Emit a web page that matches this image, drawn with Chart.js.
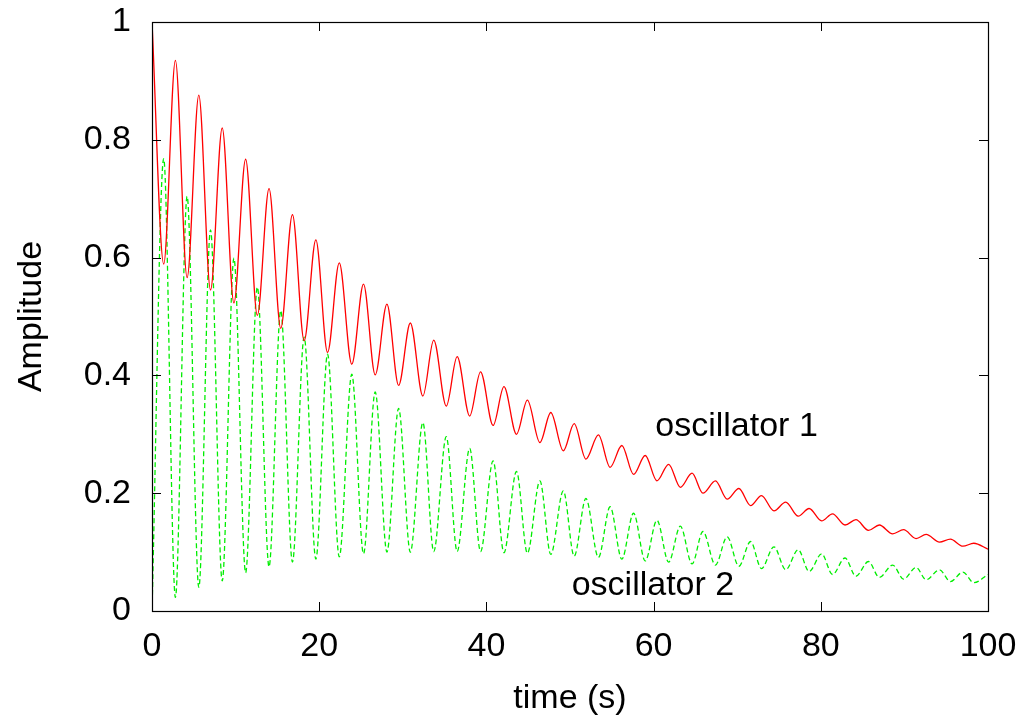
<!DOCTYPE html>
<html>
<head>
<meta charset="utf-8">
<script src="https://cdn.jsdelivr.net/npm/chart.js@4.4.1/dist/chart.umd.min.js"></script>
<style>
  html, body { margin: 0; padding: 0; background: #fff; }
  canvas { display: block; }
</style>
</head>
<body>
<canvas id="c" width="1023" height="719"></canvas>
<script>
// Times (s) of the extrema (red peak / red trough alternating)
const times = [
  0, 1.4, 2.8, 4.2, 5.6, 7.0, 8.4, 9.8, 11.2, 12.6, 14.0, 15.4, 16.8, 18.2, 19.6, 21.0,
  22.4, 23.9, 25.3, 26.7, 28.1, 29.5, 30.9, 32.4, 33.7, 35.2, 36.5, 38.0, 39.3, 40.8,
  42.1, 43.6, 44.9, 46.4, 47.7, 49.2, 50.5, 51.9, 53.4, 54.8, 56.2, 57.6, 59.0, 60.4,
  61.8, 63.2, 64.6, 65.9, 67.4, 68.8, 70.2, 71.6, 72.9, 74.4, 75.8, 77.3, 78.6, 80.1,
  81.4, 82.9, 84.2, 85.7, 87.0, 88.6, 89.9, 91.4, 92.6, 94.2, 95.5, 97.0, 98.3, 100
];
// oscillator 1 (red) amplitude at those times
const oscillator1 = [
  1.000, 0.589, 0.935, 0.566, 0.876, 0.545, 0.820, 0.523, 0.767, 0.502, 0.717, 0.480,
  0.673, 0.459, 0.630, 0.439, 0.591, 0.419, 0.555, 0.401, 0.521, 0.383, 0.489, 0.365,
  0.460, 0.348, 0.432, 0.331, 0.406, 0.315, 0.381, 0.300, 0.358, 0.286, 0.337, 0.272,
  0.318, 0.258, 0.299, 0.244, 0.281, 0.232, 0.264, 0.221, 0.249, 0.210, 0.234, 0.200,
  0.221, 0.190, 0.208, 0.179, 0.196, 0.170, 0.185, 0.161, 0.174, 0.153, 0.165, 0.146,
  0.155, 0.137, 0.146, 0.131, 0.138, 0.123, 0.130, 0.117, 0.122, 0.110, 0.115, 0.105
];
// oscillator 2 (green) amplitude at those times
const oscillator2 = [
  0.000, 0.768, 0.023, 0.704, 0.040, 0.647, 0.051, 0.599, 0.065, 0.550, 0.075, 0.510,
  0.083, 0.465, 0.088, 0.436, 0.092, 0.402, 0.097, 0.372, 0.100, 0.344, 0.100, 0.320,
  0.101, 0.296, 0.101, 0.276, 0.101, 0.255, 0.099, 0.237, 0.098, 0.221, 0.096, 0.204,
  0.093, 0.191, 0.091, 0.177, 0.088, 0.166, 0.085, 0.154, 0.083, 0.144, 0.080, 0.135,
  0.078, 0.126, 0.076, 0.118, 0.072, 0.109, 0.070, 0.104, 0.067, 0.097, 0.062, 0.090,
  0.059, 0.084, 0.057, 0.078, 0.054, 0.074, 0.053, 0.070, 0.050, 0.066, 0.048, 0.062
];
const xTickLabels = ['0', '20', '40', '60', '80', '100'];
const yTickLabels = ['0', '0.2', '0.4', '0.6', '0.8', '1'];
const xAxisTitle = 'time (s)';
const yAxisTitle = 'Amplitude';
const labelTexts = ['oscillator 1', 'oscillator 2'];
const labelTimes = [60.2, 50.2];
const labelValues = [0.297, 0.028];

const FONT = '"Liberation Sans", Arial, Helvetica, sans-serif';

const framePlugin = {
  id: 'gnuplotFrame',
  afterDatasetsDraw(chart) {
    const ctx = chart.ctx;
    const a = chart.chartArea;
    const xs = chart.scales.x, ys = chart.scales.y;
    const tl = 9;
    ctx.save();
    ctx.strokeStyle = '#000';
    ctx.lineWidth = 1;
    ctx.beginPath();
    xs.ticks.forEach(t => {
      const px = Math.round(xs.getPixelForValue(t.value)) + 0.5;
      ctx.moveTo(px, a.bottom); ctx.lineTo(px, a.bottom - tl);
      ctx.moveTo(px, a.top); ctx.lineTo(px, a.top + tl);
    });
    ys.ticks.forEach(t => {
      const py = Math.round(ys.getPixelForValue(t.value)) + 0.5;
      ctx.moveTo(a.left, py); ctx.lineTo(a.left + tl, py);
      ctx.moveTo(a.right, py); ctx.lineTo(a.right - tl, py);
    });
    ctx.stroke();
    ctx.lineWidth = 1.2;
    ctx.strokeRect(Math.round(a.left) + 0.5, Math.round(a.top) + 0.5,
                   Math.round(a.right - a.left), Math.round(a.bottom - a.top));
    // text labels
    ctx.fillStyle = '#000';
    ctx.font = '34px ' + FONT;
    ctx.textAlign = 'left';
    ctx.textBaseline = 'alphabetic';
    labelTexts.forEach((txt, i) => {
      ctx.fillText(txt, xs.getPixelForValue(labelTimes[i]), ys.getPixelForValue(labelValues[i]));
    });
    ctx.restore();
  }
};

const toPoints = (vals) => times.map((t, i) => ({ x: t, y: vals[i] }));

new Chart(document.getElementById('c'), {
  type: 'line',
  data: {
    datasets: [
      {
        label: 'oscillator 1',
        data: toPoints(oscillator1),
        borderColor: '#ff0000',
        borderWidth: 1.3,
        pointRadius: 0,
        fill: false,
        cubicInterpolationMode: 'monotone'
      },
      {
        label: 'oscillator 2',
        data: toPoints(oscillator2),
        borderColor: '#00ee00',
        borderWidth: 1.3,
        borderDash: [5, 3],
        pointRadius: 0,
        fill: false,
        cubicInterpolationMode: 'monotone'
      }
    ]
  },
  options: {
    responsive: false,
    animation: false,
    devicePixelRatio: 1,
    layout: { autoPadding: false, padding: { top: 22, right: 35, left: 0, bottom: 0 } },
    plugins: { legend: { display: false }, tooltip: { enabled: false } },
    scales: {
      x: {
        type: 'linear',
        min: 0, max: 100,
        grid: { display: false, drawTicks: false },
        border: { display: false },
        ticks: {
          stepSize: 20,
          padding: 15,
          color: '#000',
          font: { family: FONT, size: 34 },
          maxRotation: 0,
          callback: (v, i) => xTickLabels[i]
        },
        title: {
          display: true,
          text: xAxisTitle,
          color: '#000',
          font: { family: FONT, size: 34 },
          padding: { top: 12, bottom: 0 }
        },
        afterFit: s => {
          s.height = 108;
          s.paddingLeft = 0; s.paddingRight = 0; s.paddingTop = 0; s.paddingBottom = 0;
        }
      },
      y: {
        type: 'linear',
        min: 0, max: 1,
        grid: { display: false, drawTicks: false },
        border: { display: false },
        ticks: {
          stepSize: 0.2,
          padding: 21,
          color: '#000',
          font: { family: FONT, size: 34 },
          callback: (v, i) => yTickLabels[i]
        },
        title: {
          display: true,
          text: yAxisTitle,
          color: '#000',
          font: { family: FONT, size: 34 },
          padding: { top: 11, bottom: 0 }
        },
        afterFit: s => {
          s.width = 152;
          s.paddingLeft = 0; s.paddingRight = 0; s.paddingTop = 0; s.paddingBottom = 0;
        }
      }
    }
  },
  plugins: [framePlugin]
});
</script>
</body>
</html>
